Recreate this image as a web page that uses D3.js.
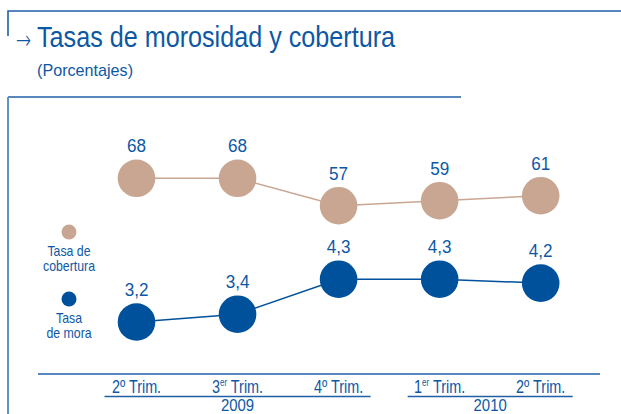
<!DOCTYPE html>
<html><head><meta charset="utf-8">
<script src="https://cdn.jsdelivr.net/npm/d3@7/dist/d3.min.js"></script>
<style>
body{margin:0;background:#fff;}
svg{display:block;}
text{font-family:"Liberation Sans",Arial,sans-serif;fill:#0d58a4;}
</style></head>
<body>
<svg id="c" width="621" height="414"></svg>
<script>
const quarters = ["2º Trim.", "3er Trim.", "4º Trim.", "1er Trim.", "2º Trim."];
const quarterMain = ["2º", "3", "4º", "1", "2º"];
const quarterSup = ["", "er", "", "er", ""];
const years = ["2009", "2010"];
const yearSpans = [[0, 2], [3, 4]];
const cobertura = [68, 68, 57, 59, 61];
const mora = [3.2, 3.4, 4.3, 4.3, 4.2];
const coberturaLabels = ["68", "68", "57", "59", "61"];
const moraLabels = ["3,2", "3,4", "4,3", "4,3", "4,2"];

const BLUE = "#00519b", TAN = "#c9a691", FRAME = "#1f5fa6";
const svg = d3.select("#c");

// condensed text helper: horizontal squeeze around the anchor point
function ctext(parent, x, y, str, size, anchor, k) {
  const g = parent.append("g").attr("transform", `translate(${x},${y}) scale(${k},1)`);
  return g.append("text").attr("text-anchor", anchor || "start").attr("font-size", size).text(str);
}

// frames
svg.append("path").attr("d", "M8,36V11H621").attr("fill", "none").attr("stroke", FRAME).attr("stroke-width", 1.6);
svg.append("line").attr("x1", 8).attr("x2", 461).attr("y1", 97).attr("y2", 97).attr("stroke", FRAME).attr("stroke-width", 1.6);
svg.append("line").attr("x1", 8).attr("x2", 8).attr("y1", 97).attr("y2", 414).attr("stroke", "#5f93cc").attr("stroke-width", 2);

// title
ctext(svg, 16, 49, "→", 26, "start", 0.7).style("font-family", "'Noto Sans','DejaVu Sans'").style("font-weight", 300);
svg.append("text").attr("x", 37).attr("y", 47).attr("font-size", 30)
  .attr("textLength", 358).attr("lengthAdjust", "spacingAndGlyphs").text("Tasas de morosidad y cobertura");
ctext(svg, 37, 76, "(Porcentajes)", 17, "start", 0.95);

// scales
const x = d3.scalePoint().domain(d3.range(quarters.length)).range([136.5, 540.7]);
const yCob = d3.scaleLinear().domain([57, 68]).range([205.7, 178.3]);
const yMora = d3.scaleLinear().domain([3.2, 4.3]).range([322, 279.2]);
const R = 18.8;

function series(vals, labels, y, color) {
  const line = d3.line().x((d, i) => x(i)).y(d => y(d));
  svg.append("path").datum(vals).attr("d", line).attr("fill", "none").attr("stroke", color).attr("stroke-width", 1.5);
  svg.selectAll(null).data(vals).join("circle")
    .attr("cx", (d, i) => x(i)).attr("cy", d => y(d)).attr("r", R).attr("fill", color);
  vals.forEach((d, i) => ctext(svg, x(i), y(d) - 26, labels[i], 19, "middle", 0.9));
}
series(cobertura, coberturaLabels, yCob, TAN);
series(mora, moraLabels, yMora, BLUE);

// legend
svg.append("circle").attr("cx", 69).attr("cy", 232).attr("r", 7.5).attr("fill", TAN);
ctext(svg, 69, 256, "Tasa de", 14, "middle", 0.88);
ctext(svg, 69, 271, "cobertura", 14, "middle", 0.88);
svg.append("circle").attr("cx", 69).attr("cy", 299).attr("r", 7.5).attr("fill", BLUE);
ctext(svg, 69, 323, "Tasa", 14, "middle", 0.88);
ctext(svg, 69, 338, "de mora", 14, "middle", 0.88);

// axis
svg.append("line").attr("x1", 38).attr("x2", 600).attr("y1", 374).attr("y2", 374).attr("stroke", FRAME).attr("stroke-width", 1.5);
quarters.forEach((q, i) => {
  const t = ctext(svg, x(i), 393, "", 18, "middle", 0.8);
  t.append("tspan").text(quarterMain[i]);
  if (quarterSup[i]) {
    t.append("tspan").attr("font-size", 10).attr("dy", -7).text(quarterSup[i]);
    t.append("tspan").attr("dy", 7).text(" Trim.");
  } else {
    t.append("tspan").text(" Trim.");
  }
});

yearSpans.forEach((s, k) => {
  const x0 = x(s[0]) - 32, x1 = x(s[1]) + 32;
  svg.append("line").attr("x1", x0).attr("x2", x1).attr("y1", 396.5).attr("y2", 396.5).attr("stroke", FRAME).attr("stroke-width", 1.5);
  ctext(svg, (x0 + x1) / 2, 411, years[k], 17, "middle", 0.88);
});
</script>
</body></html>
